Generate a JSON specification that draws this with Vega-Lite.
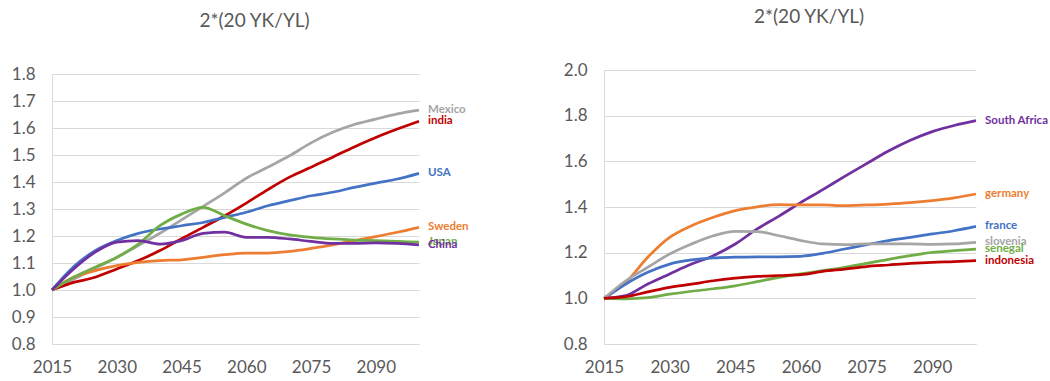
{
  "$schema": "https://vega.github.io/schema/vega-lite/v6.json",
  "autosize": {"type": "pad"},
  "padding": {"left": 11, "top": 8, "right": 0, "bottom": 0},
  "background": "white",
  "spacing": 185,
  "bounds": "flush",
  "config": {
    "view": {"stroke": null},
    "font": "Lato",
    "axis": {
      "labelFont": "Lato", "labelFontSize": 17, "labelColor": "#595959",
      "ticks": false, "domainColor": "#D9D9D9", "domainWidth": 1,
      "gridColor": "#D9D9D9", "gridWidth": 1, "title": null
    },
    "axisX": {"grid": false, "labelPadding": 15, "labelFlush": false},
    "axisY": {"grid": true, "labelPadding": 17},
    "title": {"font": "Lato", "fontSize": 19, "fontWeight": "normal", "color": "#595959", "frame": "group", "baseline": "alphabetic", "offset": 34, "anchor": "middle", "dx": 19}
  },
  "datasets": {
    "L": [
      {"country":"Mexico","year":2015,"value":1.0},{"country":"Mexico","year":2020,"value":1.04},{"country":"Mexico","year":2025,"value":1.08},{"country":"Mexico","year":2030,"value":1.12},{"country":"Mexico","year":2035,"value":1.165},{"country":"Mexico","year":2040,"value":1.21},{"country":"Mexico","year":2045,"value":1.26},{"country":"Mexico","year":2050,"value":1.31},{"country":"Mexico","year":2055,"value":1.36},{"country":"Mexico","year":2060,"value":1.414},{"country":"Mexico","year":2065,"value":1.455},{"country":"Mexico","year":2070,"value":1.497},{"country":"Mexico","year":2075,"value":1.545},{"country":"Mexico","year":2080,"value":1.584},{"country":"Mexico","year":2085,"value":1.613},{"country":"Mexico","year":2090,"value":1.633},{"country":"Mexico","year":2095,"value":1.652},{"country":"Mexico","year":2100,"value":1.666},
      {"country":"india","year":2015,"value":1.0},{"country":"india","year":2020,"value":1.028},{"country":"india","year":2025,"value":1.047},{"country":"india","year":2030,"value":1.078},{"country":"india","year":2035,"value":1.109},{"country":"india","year":2040,"value":1.146},{"country":"india","year":2045,"value":1.19},{"country":"india","year":2050,"value":1.232},{"country":"india","year":2055,"value":1.275},{"country":"india","year":2060,"value":1.322},{"country":"india","year":2065,"value":1.372},{"country":"india","year":2070,"value":1.418},{"country":"india","year":2075,"value":1.455},{"country":"india","year":2080,"value":1.492},{"country":"india","year":2085,"value":1.53},{"country":"india","year":2090,"value":1.565},{"country":"india","year":2095,"value":1.596},{"country":"india","year":2100,"value":1.625},
      {"country":"USA","year":2015,"value":1.0},{"country":"USA","year":2020,"value":1.086},{"country":"USA","year":2025,"value":1.146},{"country":"USA","year":2030,"value":1.183},{"country":"USA","year":2035,"value":1.21},{"country":"USA","year":2040,"value":1.226},{"country":"USA","year":2045,"value":1.238},{"country":"USA","year":2050,"value":1.25},{"country":"USA","year":2055,"value":1.269},{"country":"USA","year":2060,"value":1.288},{"country":"USA","year":2065,"value":1.312},{"country":"USA","year":2070,"value":1.331},{"country":"USA","year":2075,"value":1.349},{"country":"USA","year":2080,"value":1.362},{"country":"USA","year":2085,"value":1.38},{"country":"USA","year":2090,"value":1.396},{"country":"USA","year":2095,"value":1.411},{"country":"USA","year":2100,"value":1.432},
      {"country":"Sweden","year":2015,"value":1.0},{"country":"Sweden","year":2020,"value":1.047},{"country":"Sweden","year":2025,"value":1.072},{"country":"Sweden","year":2030,"value":1.09},{"country":"Sweden","year":2035,"value":1.102},{"country":"Sweden","year":2040,"value":1.109},{"country":"Sweden","year":2045,"value":1.112},{"country":"Sweden","year":2050,"value":1.121},{"country":"Sweden","year":2055,"value":1.131},{"country":"Sweden","year":2060,"value":1.137},{"country":"Sweden","year":2065,"value":1.137},{"country":"Sweden","year":2070,"value":1.143},{"country":"Sweden","year":2075,"value":1.154},{"country":"Sweden","year":2080,"value":1.167},{"country":"Sweden","year":2085,"value":1.183},{"country":"Sweden","year":2090,"value":1.198},{"country":"Sweden","year":2095,"value":1.214},{"country":"Sweden","year":2100,"value":1.232},
      {"country":"Japan","year":2015,"value":1.0},{"country":"Japan","year":2020,"value":1.047},{"country":"Japan","year":2025,"value":1.084},{"country":"Japan","year":2030,"value":1.121},{"country":"Japan","year":2035,"value":1.17},{"country":"Japan","year":2040,"value":1.238},{"country":"Japan","year":2045,"value":1.281},{"country":"Japan","year":2050,"value":1.306},{"country":"Japan","year":2055,"value":1.275},{"country":"Japan","year":2060,"value":1.244},{"country":"Japan","year":2065,"value":1.22},{"country":"Japan","year":2070,"value":1.204},{"country":"Japan","year":2075,"value":1.195},{"country":"Japan","year":2080,"value":1.189},{"country":"Japan","year":2085,"value":1.185},{"country":"Japan","year":2090,"value":1.183},{"country":"Japan","year":2095,"value":1.18},{"country":"Japan","year":2100,"value":1.177},
      {"country":"China","year":2015,"value":1.0},{"country":"China","year":2020,"value":1.078},{"country":"China","year":2025,"value":1.14},{"country":"China","year":2030,"value":1.177},{"country":"China","year":2035,"value":1.183},{"country":"China","year":2040,"value":1.17},{"country":"China","year":2045,"value":1.183},{"country":"China","year":2050,"value":1.21},{"country":"China","year":2055,"value":1.214},{"country":"China","year":2060,"value":1.195},{"country":"China","year":2065,"value":1.195},{"country":"China","year":2070,"value":1.189},{"country":"China","year":2075,"value":1.18},{"country":"China","year":2080,"value":1.173},{"country":"China","year":2085,"value":1.173},{"country":"China","year":2090,"value":1.175},{"country":"China","year":2095,"value":1.173},{"country":"China","year":2100,"value":1.167}
    ],
    "R": [
      {"country":"South Africa","year":2015,"value":1.0},{"country":"South Africa","year":2020,"value":1.012},{"country":"South Africa","year":2025,"value":1.063},{"country":"South Africa","year":2030,"value":1.107},{"country":"South Africa","year":2035,"value":1.15},{"country":"South Africa","year":2040,"value":1.187},{"country":"South Africa","year":2045,"value":1.238},{"country":"South Africa","year":2050,"value":1.304},{"country":"South Africa","year":2055,"value":1.36},{"country":"South Africa","year":2060,"value":1.42},{"country":"South Africa","year":2065,"value":1.476},{"country":"South Africa","year":2070,"value":1.534},{"country":"South Africa","year":2075,"value":1.59},{"country":"South Africa","year":2080,"value":1.645},{"country":"South Africa","year":2085,"value":1.692},{"country":"South Africa","year":2090,"value":1.73},{"country":"South Africa","year":2095,"value":1.757},{"country":"South Africa","year":2100,"value":1.778},
      {"country":"germany","year":2015,"value":1.0},{"country":"germany","year":2020,"value":1.07},{"country":"germany","year":2025,"value":1.18},{"country":"germany","year":2030,"value":1.267},{"country":"germany","year":2035,"value":1.318},{"country":"germany","year":2040,"value":1.355},{"country":"germany","year":2045,"value":1.384},{"country":"germany","year":2050,"value":1.401},{"country":"germany","year":2055,"value":1.41},{"country":"germany","year":2060,"value":1.409},{"country":"germany","year":2065,"value":1.409},{"country":"germany","year":2070,"value":1.406},{"country":"germany","year":2075,"value":1.409},{"country":"germany","year":2080,"value":1.413},{"country":"germany","year":2085,"value":1.419},{"country":"germany","year":2090,"value":1.428},{"country":"germany","year":2095,"value":1.44},{"country":"germany","year":2100,"value":1.457},
      {"country":"france","year":2015,"value":1.0},{"country":"france","year":2020,"value":1.063},{"country":"france","year":2025,"value":1.114},{"country":"france","year":2030,"value":1.15},{"country":"france","year":2035,"value":1.168},{"country":"france","year":2040,"value":1.177},{"country":"france","year":2045,"value":1.18},{"country":"france","year":2050,"value":1.182},{"country":"france","year":2055,"value":1.182},{"country":"france","year":2060,"value":1.184},{"country":"france","year":2065,"value":1.197},{"country":"france","year":2070,"value":1.216},{"country":"france","year":2075,"value":1.235},{"country":"france","year":2080,"value":1.253},{"country":"france","year":2085,"value":1.267},{"country":"france","year":2090,"value":1.282},{"country":"france","year":2095,"value":1.296},{"country":"france","year":2100,"value":1.315},
      {"country":"slovenia","year":2015,"value":1.0},{"country":"slovenia","year":2020,"value":1.077},{"country":"slovenia","year":2025,"value":1.136},{"country":"slovenia","year":2030,"value":1.194},{"country":"slovenia","year":2035,"value":1.238},{"country":"slovenia","year":2040,"value":1.274},{"country":"slovenia","year":2045,"value":1.293},{"country":"slovenia","year":2050,"value":1.292},{"country":"slovenia","year":2055,"value":1.274},{"country":"slovenia","year":2060,"value":1.253},{"country":"slovenia","year":2065,"value":1.238},{"country":"slovenia","year":2070,"value":1.235},{"country":"slovenia","year":2075,"value":1.238},{"country":"slovenia","year":2080,"value":1.238},{"country":"slovenia","year":2085,"value":1.238},{"country":"slovenia","year":2090,"value":1.236},{"country":"slovenia","year":2095,"value":1.238},{"country":"slovenia","year":2100,"value":1.245},
      {"country":"senegal","year":2015,"value":1.0},{"country":"senegal","year":2020,"value":0.998},{"country":"senegal","year":2025,"value":1.003},{"country":"senegal","year":2030,"value":1.018},{"country":"senegal","year":2035,"value":1.031},{"country":"senegal","year":2040,"value":1.042},{"country":"senegal","year":2045,"value":1.055},{"country":"senegal","year":2050,"value":1.073},{"country":"senegal","year":2055,"value":1.092},{"country":"senegal","year":2060,"value":1.107},{"country":"senegal","year":2065,"value":1.121},{"country":"senegal","year":2070,"value":1.136},{"country":"senegal","year":2075,"value":1.153},{"country":"senegal","year":2080,"value":1.171},{"country":"senegal","year":2085,"value":1.187},{"country":"senegal","year":2090,"value":1.201},{"country":"senegal","year":2095,"value":1.209},{"country":"senegal","year":2100,"value":1.216},
      {"country":"indonesia","year":2015,"value":1.0},{"country":"indonesia","year":2020,"value":1.007},{"country":"indonesia","year":2025,"value":1.028},{"country":"indonesia","year":2030,"value":1.048},{"country":"indonesia","year":2035,"value":1.062},{"country":"indonesia","year":2040,"value":1.077},{"country":"indonesia","year":2045,"value":1.088},{"country":"indonesia","year":2050,"value":1.096},{"country":"indonesia","year":2055,"value":1.1},{"country":"indonesia","year":2060,"value":1.104},{"country":"indonesia","year":2065,"value":1.118},{"country":"indonesia","year":2070,"value":1.128},{"country":"indonesia","year":2075,"value":1.139},{"country":"indonesia","year":2080,"value":1.146},{"country":"indonesia","year":2085,"value":1.153},{"country":"indonesia","year":2090,"value":1.158},{"country":"indonesia","year":2095,"value":1.161},{"country":"indonesia","year":2100,"value":1.165}
    ]
  },
  "hconcat": [
    {
      "width": 367, "height": 274,
      "title": {"text": "2*(20 YK/YL)"},
      "data": {"name": "L"},
      "encoding": {
        "x": {"field": "year", "type": "quantitative", "scale": {"domain": [2015, 2100], "nice": false, "zero": false}, "axis": {"values": [2015, 2030, 2045, 2060, 2075, 2090], "format": "d"}},
        "y": {"field": "value", "type": "quantitative", "scale": {"domain": [0.8, 1.8], "range": [274, 4], "nice": false, "zero": false}, "axis": {"values": [0.8, 0.9, 1.0, 1.1, 1.2, 1.3, 1.4, 1.5, 1.6, 1.7, 1.8], "format": ".1f"}},
        "color": {"field": "country", "type": "nominal", "legend": null, "scale": {"domain": ["Mexico", "india", "USA", "Sweden", "Japan", "China"], "range": ["#A5A5A5", "#C00000", "#4472C4", "#ED7D31", "#70AD47", "#7030A0"]}}
      },
      "layer": [
        {"mark": {"type": "line", "strokeWidth": 2.75, "interpolate": "monotone"}},
        {"transform": [{"filter": "datum.year == 2100"}], "mark": {"type": "text", "align": "left", "baseline": "middle", "dx": 9, "fontWeight": "bold", "fontSize": 11.5, "font": "Lato"}, "encoding": {"text": {"field": "country"}}}
      ]
    },
    {
      "width": 372, "height": 274,
      "title": {"text": "2*(20 YK/YL)"},
      "data": {"name": "R"},
      "encoding": {
        "x": {"field": "year", "type": "quantitative", "scale": {"domain": [2015, 2100], "nice": false, "zero": false}, "axis": {"values": [2015, 2030, 2045, 2060, 2075, 2090], "format": "d"}},
        "y": {"field": "value", "type": "quantitative", "scale": {"domain": [0.8, 2.0], "nice": false, "zero": false}, "axis": {"values": [0.8, 1.0, 1.2, 1.4, 1.6, 1.8, 2.0], "format": ".1f"}},
        "color": {"field": "country", "type": "nominal", "legend": null, "scale": {"domain": ["South Africa", "germany", "france", "slovenia", "senegal", "indonesia"], "range": ["#7030A0", "#ED7D31", "#4472C4", "#A5A5A5", "#70AD47", "#C00000"]}}
      },
      "layer": [
        {"mark": {"type": "line", "strokeWidth": 2.75, "interpolate": "monotone"}},
        {"transform": [{"filter": "datum.year == 2100"}], "mark": {"type": "text", "align": "left", "baseline": "middle", "dx": 9, "fontWeight": "bold", "fontSize": 11.5, "font": "Lato"}, "encoding": {"text": {"field": "country"}}}
      ]
    }
  ],
  "resolve": {"scale": {"color": "independent", "x": "independent", "y": "independent"}}
}
